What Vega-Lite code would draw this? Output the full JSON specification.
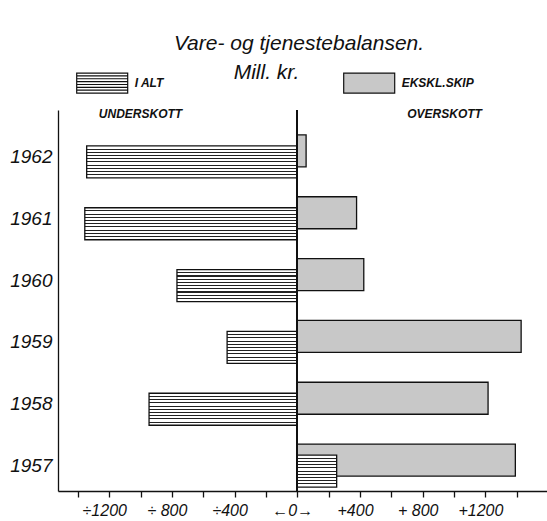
{
  "$schema": "https://vega.github.io/schema/vega-lite/v6.json",
  "autosize": {"type": "none"},
  "padding": {"left": 58, "top": 110, "right": 0, "bottom": 30},
  "width": 489,
  "height": 381,
  "background": "white",
  "title": {
    "text": "Vare- og tjenestebalansen.",
    "anchor": "middle",
    "frame": "group",
    "dx": -3.5,
    "dy": 7,
    "offset": 10,
    "font": "Liberation Sans",
    "fontSize": 21,
    "fontStyle": "italic",
    "fontWeight": "normal",
    "color": "#111111"
  },
  "config": {
    "view": {"stroke": null},
    "axis": {
      "grid": false,
      "domainColor": "#111111",
      "tickColor": "#111111",
      "labelColor": "#111111",
      "labelFont": "Liberation Sans",
      "labelFontStyle": "italic",
      "titleFont": "Liberation Sans"
    },
    "legend": {
      "title": null,
      "orient": "none",
      "legendX": 17.7,
      "legendY": -53.5,
      "direction": "horizontal",
      "symbolSize": 2601,
      "symbolStrokeWidth": 1.2,
      "symbolOpacity": 1,
      "labelFont": "Liberation Sans",
      "labelFontStyle": "italic",
      "labelFontWeight": "bold",
      "labelFontSize": 12,
      "labelColor": "#111111",
      "labelOffset": 6,
      "columnPadding": 176,
      "padding": 0
    }
  },
  "data": {
    "values": [
      {"year": 1962, "series": "I ALT", "value": -1344},
      {"year": 1962, "series": "EKSKL.SKIP", "value": 56},
      {"year": 1961, "series": "I ALT", "value": -1356},
      {"year": 1961, "series": "EKSKL.SKIP", "value": 378},
      {"year": 1960, "series": "I ALT", "value": -768},
      {"year": 1960, "series": "EKSKL.SKIP", "value": 424},
      {"year": 1959, "series": "I ALT", "value": -448},
      {"year": 1959, "series": "EKSKL.SKIP", "value": 1428},
      {"year": 1958, "series": "I ALT", "value": -946},
      {"year": 1958, "series": "EKSKL.SKIP", "value": 1217},
      {"year": 1957, "series": "I ALT", "value": 251},
      {"year": 1957, "series": "EKSKL.SKIP", "value": 1391}
    ]
  },
  "layer": [
    {
      "transform": [{"filter": "datum.series == 'EKSKL.SKIP'"}],
      "mark": {"type": "bar", "orient": "horizontal", "height": 32, "yOffset": -5.5, "fill": "#c8c8c8", "stroke": "#111111", "strokeWidth": 1.3},
      "encoding": {
        "x": {
          "field": "value",
          "type": "quantitative",
          "scale": {"domain": [-1527, 1593], "nice": false, "zero": false},
          "axis": {
            "orient": "top",
            "values": [-1004, 936],
            "labelExpr": "datum.value < 0 ? 'UNDERSKOTT' : 'OVERSKOTT'",
            "ticks": false,
            "tickSize": 0,
            "domain": false,
            "labelPadding": -3,
            "labelBaseline": "middle",
            "labelFontSize": 12,
            "labelFontWeight": "bold",
            "labelFlush": false,
            "labelOverlap": false,
            "title": "Mill. kr.",
            "titleX": 208,
            "titleY": -32,
            "titleBaseline": "alphabetic",
            "titleAlign": "center",
            "titleFontSize": 21,
            "titleFontStyle": "italic",
            "titleFontWeight": "normal",
            "titleColor": "#111111",
            "titlePadding": 0
          }
        },
        "y": {
          "field": "year",
          "type": "quantitative",
          "scale": {"domain": [1956.67, 1962.67], "nice": false, "zero": false},
          "axis": {
            "values": [1957, 1958, 1959, 1960, 1961, 1962],
            "format": "d",
            "ticks": false,
            "labelPadding": 6,
            "labelFontSize": 19,
            "labelBaseline": "middle",
            "title": null,
            "domainWidth": 1.3
          }
        }
      }
    },
    {
      "transform": [{"filter": "datum.series == 'I ALT'"}],
      "mark": {
        "type": "bar", "orient": "horizontal", "height": 32, "yOffset": 5.5, "stroke": "#111111", "strokeWidth": 1.3,
        "fill": {"gradient": "linear", "x1": 0, "y1": 0, "x2": 0, "y2": 1, "stops": [
          {"offset": 0, "color": "#ffffff"},
          {"offset": 0.084, "color": "#ffffff"}, {"offset": 0.084, "color": "#222222"}, {"offset": 0.116, "color": "#222222"}, {"offset": 0.116, "color": "#ffffff"},
          {"offset": 0.184, "color": "#ffffff"}, {"offset": 0.184, "color": "#222222"}, {"offset": 0.216, "color": "#222222"}, {"offset": 0.216, "color": "#ffffff"},
          {"offset": 0.284, "color": "#ffffff"}, {"offset": 0.284, "color": "#222222"}, {"offset": 0.316, "color": "#222222"}, {"offset": 0.316, "color": "#ffffff"},
          {"offset": 0.384, "color": "#ffffff"}, {"offset": 0.384, "color": "#222222"}, {"offset": 0.416, "color": "#222222"}, {"offset": 0.416, "color": "#ffffff"},
          {"offset": 0.484, "color": "#ffffff"}, {"offset": 0.484, "color": "#222222"}, {"offset": 0.516, "color": "#222222"}, {"offset": 0.516, "color": "#ffffff"},
          {"offset": 0.584, "color": "#ffffff"}, {"offset": 0.584, "color": "#222222"}, {"offset": 0.616, "color": "#222222"}, {"offset": 0.616, "color": "#ffffff"},
          {"offset": 0.684, "color": "#ffffff"}, {"offset": 0.684, "color": "#222222"}, {"offset": 0.716, "color": "#222222"}, {"offset": 0.716, "color": "#ffffff"},
          {"offset": 0.784, "color": "#ffffff"}, {"offset": 0.784, "color": "#222222"}, {"offset": 0.816, "color": "#222222"}, {"offset": 0.816, "color": "#ffffff"},
          {"offset": 0.884, "color": "#ffffff"}, {"offset": 0.884, "color": "#222222"}, {"offset": 0.916, "color": "#222222"}, {"offset": 0.916, "color": "#ffffff"},
          {"offset": 1, "color": "#ffffff"}
        ]}
      },
      "encoding": {
        "x": {
          "field": "value",
          "type": "quantitative",
          "scale": {"domain": [-1527, 1593], "nice": false, "zero": false},
          "axis": {
            "orient": "bottom",
            "values": [-1400, -1200, -1000, -800, -600, -400, -200, 0, 200, 400, 600, 800, 1000, 1200, 1400],
            "labelExpr": "datum.value == 0 ? '←0→' : (abs(datum.value) % 400 == 0 && abs(datum.value) <= 1200) ? ((datum.value < 0 ? '÷' : '+') + (abs(datum.value) == 800 ? ' ' : '') + abs(datum.value)) : ''",
            "title": null,
            "tickSize": 6,
            "tickWidth": 1.3,
            "domainWidth": 1.3,
            "labelPadding": 5,
            "labelOffset": -5,
            "labelFontSize": 16,
            "labelFlush": false,
            "labelOverlap": false
          }
        },
        "y": {
          "field": "year",
          "type": "quantitative",
          "scale": {"domain": [1956.67, 1962.67], "nice": false, "zero": false},
          "axis": {
            "values": [1957, 1958, 1959, 1960, 1961, 1962],
            "format": "d",
            "ticks": false,
            "labelPadding": 6,
            "labelFontSize": 19,
            "labelBaseline": "middle",
            "title": null,
            "domainWidth": 1.3
          }
        }
      }
    },
    {
      "mark": {"type": "point", "filled": true, "opacity": 0, "stroke": "#111111", "strokeWidth": 1.2, "size": 10},
      "encoding": {
        "x": {"field": "value", "type": "quantitative", "axis": null},
        "y": {
          "field": "year",
          "type": "quantitative",
          "scale": {"domain": [1956.67, 1962.67], "nice": false, "zero": false},
          "axis": {
            "values": [1957, 1958, 1959, 1960, 1961, 1962],
            "format": "d",
            "ticks": false,
            "labelPadding": 6,
            "labelFontSize": 19,
            "labelBaseline": "middle",
            "title": null,
            "domainWidth": 1.3
          }
        },
        "shape": {
          "field": "series",
          "type": "nominal",
          "scale": {
            "domain": ["I ALT", "EKSKL.SKIP"],
            "range": [
              "M-1,-0.392L1,-0.392L1,0.392L-1,0.392Z M-1,-0.28L1,-0.28 M-1,-0.168L1,-0.168 M-1,-0.056L1,-0.056 M-1,0.056L1,0.056 M-1,0.168L1,0.168 M-1,0.28L1,0.28",
              "M-1,-0.392L1,-0.392L1,0.392L-1,0.392Z"
            ]
          },
          "legend": {"title": null}
        },
        "fill": {
          "field": "series",
          "type": "nominal",
          "scale": {"domain": ["I ALT", "EKSKL.SKIP"], "range": ["#ffffff", "#c8c8c8"]},
          "legend": {"title": null}
        }
      }
    },
    {
      "mark": {"type": "rule", "color": "#111111", "strokeWidth": 1.3},
      "encoding": {"x": {"datum": 0, "axis": null}}
    }
  ]
}
